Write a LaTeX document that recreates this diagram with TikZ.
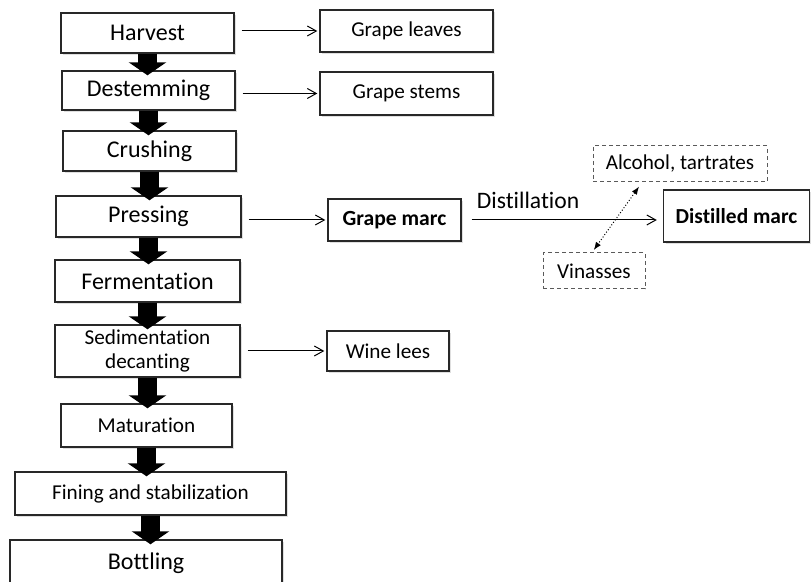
\documentclass[tikz,border=0pt]{standalone}
\usepackage{fontspec}
\setmainfont{Carlito}[Ligatures={NoCommon,NoRequired,NoContextual}]
\usepackage{tikz}
\usetikzlibrary{arrows.meta,shapes,positioning,calc,shadows}
\usepackage{xcolor}
\definecolor{EdgeG}  {RGB}{40, 40, 40}
\definecolor{DashG}  {RGB}{90, 90, 90}

\begin{document}
\begin{tikzpicture}[x=0.5pt,y=-0.5pt,
    stepbox/.style={draw=EdgeG,line width=0.7pt,fill=white,inner sep=0pt,align=center,
      drop shadow={shadow xshift=1pt,shadow yshift=-1pt,opacity=0.25}},
    dashbox/.style={draw=DashG,line width=0.5pt,dash pattern=on 2pt off 1.5pt,inner sep=0pt,
      font=\fontsize{10.6}{12}\selectfont},
    blockarr/.style={-{Triangle[width=18.5pt,length=6.5pt]},line width=9.5pt,black,shorten >=-2.5pt},
    thinarr/.style={-{Straight Barb[length=4.5pt,width=5pt]},line width=0.5pt,shorten <=3.5pt,shorten >=1pt},
    dotarr/.style={{Latex[length=4pt,width=3pt]}-{Latex[length=4pt,width=3pt]},line width=0.5pt,densely dotted}]
        \useasboundingbox (0,0) rectangle (811,582);
        % main line
        \node[stepbox,minimum width=86.5pt,minimum height=20pt,font=\fontsize{12}{14}\selectfont] (harvest) at (147.5,33) {Harvest};
        \node[stepbox,minimum width=86.5pt,minimum height=19.5pt,font=\fontsize{12}{14}\selectfont] (destem) at (148.5,90.5) {Destemming};
        \node[stepbox,minimum width=86.5pt,minimum height=20pt,font=\fontsize{12}{14}\selectfont] (crush) at (149.5,151) {Crushing};
        \node[stepbox,minimum width=92.5pt,minimum height=20.5pt,font=\fontsize{12}{14}\selectfont] (press) at (148.5,216.5) {Pressing};
        \node[stepbox,minimum width=92.5pt,minimum height=21pt,font=\fontsize{12}{14}\selectfont] (ferment) at (147.5,281) {Fermentation};
        \node[stepbox,minimum width=92.5pt,minimum height=26pt,font=\fontsize{10.6}{12}\selectfont] (sediment) at (147.5,351) {Sedimentation\\decanting};
        \node[stepbox,minimum width=85.5pt,minimum height=21.5pt,font=\fontsize{10.6}{12}\selectfont] (mature) at (146.5,425.5) {Maturation};
        \node[stepbox,minimum width=135.5pt,minimum height=21.5pt,font=\fontsize{10.6}{12}\selectfont] (fining) at (150.5,493.5) {Fining and stabilization};
        \node[stepbox,minimum width=136pt,minimum height=23pt,font=\fontsize{12}{14}\selectfont] (bottle) at (146,563) {Bottling};
        % by-products
        \node[stepbox,minimum width=86.5pt,minimum height=21pt,font=\fontsize{10.6}{12}\selectfont] (leaves) at (406.5,31) {Grape leaves};
        \node[stepbox,minimum width=86.5pt,minimum height=21.5pt,font=\fontsize{10.6}{12}\selectfont] (stems) at (406.5,93.5) {Grape stems};
        \node[stepbox,minimum width=66.5pt,minimum height=21pt,font=\fontsize{10.8}{12}\selectfont\bfseries] (marc) at (394.5,220) {Grape marc};
        \node[stepbox,minimum width=61pt,minimum height=20pt,font=\fontsize{10.6}{12}\selectfont] (lees) at (388,351) {Wine lees};
        \node[stepbox,minimum width=73pt,minimum height=26pt,font=\fontsize{10.7}{12}\selectfont\bfseries] (dmarc) at (736.5,216) {Distilled marc};
        \node[dashbox,minimum width=87pt,minimum height=18pt] (alc) at (680,164) {Alcohol, tartrates};
        \node[dashbox,minimum width=51pt,minimum height=18pt] (vin) at (594,271) {Vinasses};
        % block arrows down the line
        \foreach \a/\b in {harvest/destem, destem/crush, crush/press, press/ferment,
                           ferment/sediment, sediment/mature, mature/fining, fining/bottle}{
          \draw[blockarr] (\a.south) -- (\a.south |- \b.north);
        }
        % side arrows
        \draw[thinarr] (harvest.east |- leaves.west) -- (leaves.west);
        \draw[thinarr] (destem.east |- stems.west) -- (stems.west);
        \draw[thinarr] (press.east |- marc.west) -- (marc.west);
        \draw[thinarr] (sediment.east) -- (lees.west);
        \draw[thinarr,shorten <=5pt,shorten >=3pt] (marc.east) -- (marc.east -| dmarc.west)
          node[pos=0.33,above=2pt,font=\fontsize{11.8}{13}\selectfont]{Distillation};
        \draw[dotarr,shorten <=2.5pt,shorten >=1.5pt] ([xshift=-19pt]alc.south) -- ([xshift=-1pt]vin.north);
      \end{tikzpicture}
\end{document}
